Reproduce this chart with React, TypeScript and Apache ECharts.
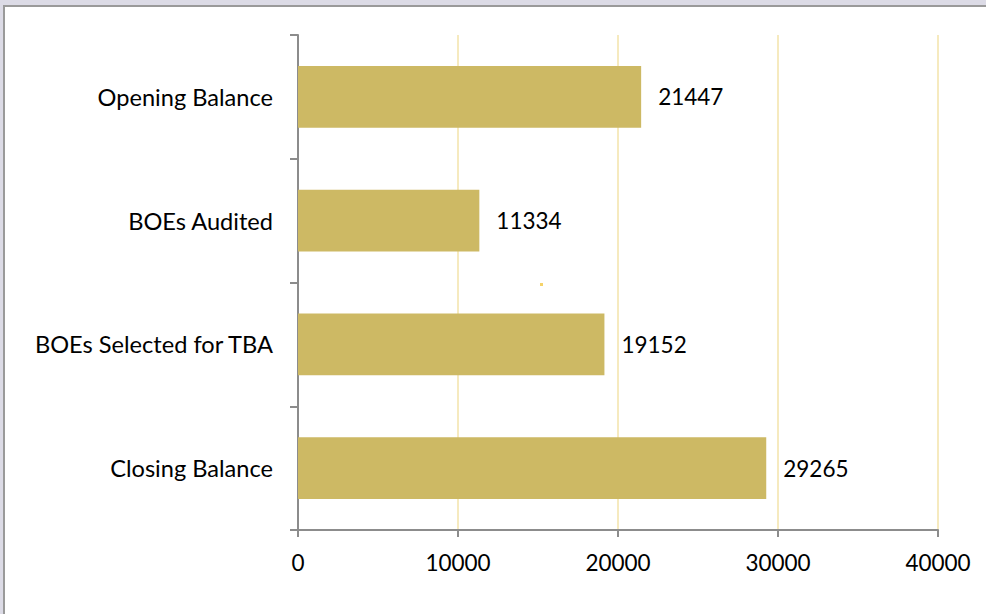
import React, { useEffect, useRef } from "react";
import * as echarts from "echarts";

const categories = ["Opening Balance", "BOEs Audited", "BOEs Selected for TBA", "Closing Balance"];
const values = [21447, 11334, 19152, 29265];
const xTicks = [0, 10000, 20000, 30000, 40000];

const FONT = "Lato, 'Liberation Sans', sans-serif";

export default function App() {
  const ref = useRef<HTMLDivElement>(null);
  useEffect(() => {
    if (!ref.current) return;
    const chart = echarts.init(ref.current, null, { renderer: "svg" });
    chart.setOption({
      animation: false,
      backgroundColor: "#ffffff",
      textStyle: { fontFamily: FONT },
      graphic: [
        { type: "rect", shape: { x: 0, y: 0, width: 986, height: 5 }, style: { fill: "#dcdbe6" }, silent: true },
        { type: "rect", shape: { x: 0, y: 0, width: 3, height: 614 }, style: { fill: "#dcdbe6" }, silent: true },
        { type: "rect", shape: { x: 3, y: 5, width: 983, height: 2 }, style: { fill: "#9a9a9a" }, silent: true },
        { type: "rect", shape: { x: 3, y: 5, width: 2, height: 609 }, style: { fill: "#9a9a9a" }, silent: true },
        { type: "rect", shape: { x: 540, y: 283, width: 3, height: 3 }, style: { fill: "#f5d36a" }, silent: true },
      ],
      grid: { left: 298, right: 48, top: 35, bottom: 84, containLabel: false },
      xAxis: {
        type: "value",
        min: xTicks[0],
        max: xTicks[xTicks.length - 1],
        interval: xTicks[1] - xTicks[0],
        axisLine: { show: true, lineStyle: { color: "#8c8c8c", width: 2 } },
        axisTick: { show: true, length: 7, lineStyle: { color: "#8c8c8c", width: 2 } },
        axisLabel: {
          color: "#000",
          fontSize: 22.5,
          margin: 21,
          fontFamily: FONT,
          formatter: (v: number) => String(v),
        },
        splitLine: { show: true, lineStyle: { color: "#f3e3aa", width: 1.5 } },
      },
      yAxis: {
        type: "category",
        data: categories,
        inverse: true,
        axisLine: { show: true, lineStyle: { color: "#8c8c8c", width: 2 } },
        axisTick: { show: true, length: 8, lineStyle: { color: "#8c8c8c", width: 2 } },
        axisLabel: { color: "#000", fontSize: 23.6, margin: 25, fontFamily: FONT },
        splitLine: { show: false },
      },
      series: [
        {
          type: "bar",
          data: values,
          barWidth: "50%",
          itemStyle: { color: "#cdb964" },
          label: { show: true, position: "right", distance: 17, color: "#000", fontSize: 22.5, fontFamily: FONT },
        },
      ],
    });
    return () => chart.dispose();
  }, []);
  return (
    <div
      ref={ref}
      style={{ position: "fixed", left: 0, top: 0, width: 986, height: 614 }}
    />
  );
}
